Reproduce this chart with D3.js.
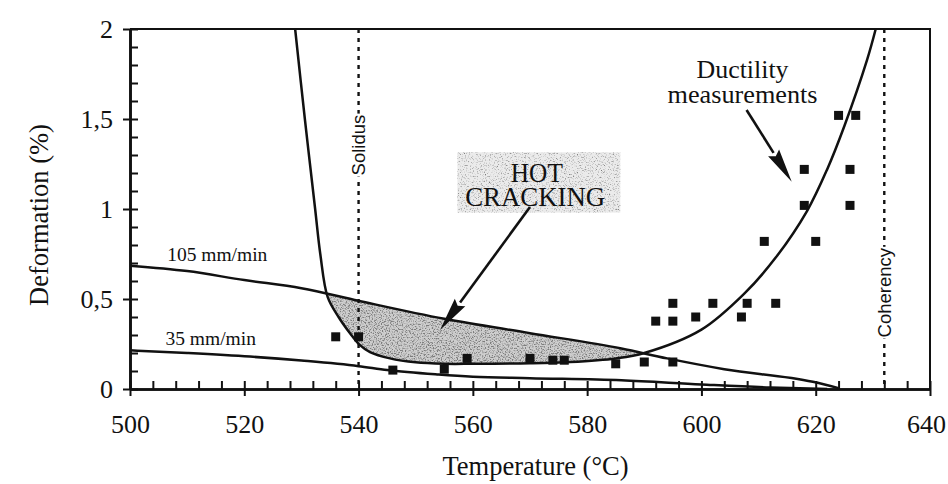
<!DOCTYPE html>
<html>
<head>
<meta charset="utf-8">
<script src="https://cdn.jsdelivr.net/npm/d3@7"></script>
<style>
  html, body { margin: 0; padding: 0; background: #fff; }
  svg { display: block; }
</style>
</head>
<body>
<svg id="chart" width="948" height="484"></svg>
<script>
// ── Hot cracking window: deformation vs temperature ─────────────────────────

// axes
const xMajorTicks = [500, 520, 540, 560, 580, 600, 620, 640];
const yMajorTicks = [0, 0.5, 1, 1.5, 2];
const yTickLabels = ["0", "0,5", "1", "1,5", "2"];

// imposed strain lines (two welding speeds)
const fastTemp = [500, 510, 520, 530, 540, 555, 570, 586, 594, 604, 619.5, 624];
const fastDef  = [0.685, 0.655, 0.605, 0.56, 0.49, 0.39, 0.31, 0.225, 0.17, 0.11, 0.04, 0.005];
const slowTemp = [500, 510, 521, 530, 540, 545, 554, 560, 570, 586, 600, 612, 622];
const slowDef  = [0.215, 0.2, 0.18, 0.158, 0.127, 0.105, 0.08, 0.068, 0.06, 0.048, 0.025, 0.008, 0];

// ductility curve (fitted to the measurements)
const ductTemp = [528.9, 530.6, 532.4, 533.3, 534.6, 536.5, 538.5, 540.2, 542, 545.5, 550, 555, 560, 570, 577, 585, 590, 600, 607.5, 613, 618.5, 622, 625, 629, 630.5];
const ductDef  = [2.0, 1.5, 1.0, 0.75, 0.51, 0.40, 0.31, 0.245, 0.205, 0.17, 0.148, 0.14, 0.14, 0.143, 0.15, 0.17, 0.2, 0.33, 0.53, 0.73, 0.99, 1.22, 1.46, 1.83, 2.0];

// ductility measurements
const measTemp = [536, 540, 546, 555, 559, 570, 574, 576, 585, 590, 595,
                  592, 595, 599, 607, 595, 602, 608, 613,
                  611, 620, 618, 626, 618, 626, 624, 627];
const measDef  = [0.29, 0.29, 0.105, 0.11, 0.17, 0.17, 0.16, 0.16, 0.14, 0.15, 0.15,
                  0.377, 0.377, 0.40, 0.40, 0.476, 0.476, 0.476, 0.476,
                  0.82, 0.82, 1.02, 1.02, 1.22, 1.22, 1.52, 1.52];

const SOLIDUS = 540, COHERENCY = 632;

const SERIF = "'Liberation Serif', 'Times New Roman', serif";
const SANS  = "'Liberation Sans', Arial, sans-serif";

const svg = d3.select("#chart");
const x = d3.scaleLinear().domain([500, 640]).range([130, 930]);
const y = d3.scaleLinear().domain([0, 2]).range([389, 29]);

const zip = (a, b) => a.map((t, i) => [t, b[i]]);
const fast = zip(fastTemp, fastDef);
const slow = zip(slowTemp, slowDef);
const duct = zip(ductTemp, ductDef);

// ── defs: stipple filters + clip for the hot-cracking area ─────────────────
const defs = svg.append("defs");
function stippleFilter(id, matrixRow) {
  const f = defs.append("filter").attr("id", id)
    .attr("x", 0).attr("y", 0).attr("width", 1).attr("height", 1);
  f.append("feTurbulence").attr("type", "fractalNoise")
    .attr("baseFrequency", 0.75).attr("numOctaves", 2).attr("seed", 7).attr("result", "n");
  f.append("feColorMatrix").attr("in", "n").attr("type", "matrix")
    .attr("values", "0 0 0 0 0.2  0 0 0 0 0.2  0 0 0 0 0.2  " + matrixRow)
    .attr("result", "d");
  f.append("feComposite").attr("in", "d").attr("in2", "SourceAlpha")
    .attr("operator", "in").attr("result", "dd");
  const fm = f.append("feMerge");
  fm.append("feMergeNode").attr("in", "SourceGraphic");
  fm.append("feMergeNode").attr("in", "dd");
}
stippleFilter("stipple", "-4 0 0 0 2.2");
stippleFilter("stippleLight", "-3 0 0 0 1.45");

const ductCurve = d3.curveCatmullRom.alpha(0.5);

// region above the ductility curve
defs.append("clipPath").attr("id", "aboveDuct")
  .append("path")
  .attr("d", d3.area().curve(ductCurve)
    .x(d => x(d[0])).y0(y(2)).y1(d => y(d[1]))(duct));

// ── hot cracking area: below 105 mm/min line and above ductility ───────────
svg.append("path")
  .attr("d", d3.area().curve(d3.curveMonotoneX)
    .x(d => x(d[0])).y0(y(0)).y1(d => y(d[1]))(fast))
  .attr("clip-path", "url(#aboveDuct)")
  .attr("fill", "#cfcfcf")
  .attr("filter", "url(#stipple)");

// ── lines ──────────────────────────────────────────────────────────────────
const line = d3.line().curve(d3.curveMonotoneX).x(d => x(d[0])).y(d => y(d[1]));
[fast, slow].forEach(function (s) {
  svg.append("path").attr("d", line(s))
    .attr("fill", "none").attr("stroke", "#111")
    .attr("stroke-width", 2.5).attr("stroke-linejoin", "round");
});
svg.append("path").attr("d", line.curve(ductCurve)(duct))
  .attr("fill", "none").attr("stroke", "#111")
  .attr("stroke-width", 2.5).attr("stroke-linejoin", "round");

// ── solidus / coherency dotted lines with labels ───────────────────────────
function dotted(temp, label, from, to) {
  const cx = x(temp);
  svg.append("line")
    .attr("x1", cx).attr("x2", cx).attr("y1", y(2)).attr("y2", y(0))
    .attr("stroke", "#111").attr("stroke-width", 2.4)
    .attr("stroke-dasharray", "4,5");
  svg.append("rect")
    .attr("x", cx - 10).attr("y", y(from)).attr("width", 20)
    .attr("height", y(to) - y(from)).attr("fill", "#fff");
  svg.append("text")
    .attr("transform", `translate(${cx},${(y(from) + y(to)) / 2}) rotate(-90)`)
    .attr("text-anchor", "middle").attr("dy", "0.35em")
    .attr("font-family", SANS).attr("font-size", 18.5).attr("fill", "#111")
    .text(label);
}
dotted(SOLIDUS, "Solidus", 1.53, 1.18);
dotted(COHERENCY, "Coherency", 0.79, 0.28);

// ── measurements ───────────────────────────────────────────────────────────
svg.append("g").selectAll("rect")
  .data(zip(measTemp, measDef))
  .join("rect")
  .attr("x", d => x(d[0]) - 4.5).attr("y", d => y(d[1]) - 4.5)
  .attr("width", 9).attr("height", 9).attr("fill", "#111");

// ── axes ───────────────────────────────────────────────────────────────────
const xMinor = d3.range(500, 641, 4);
const yMinor = d3.range(0, 2.01, 0.1);

function styleAxis(g) {
  g.select(".domain").attr("stroke", "#111").attr("stroke-width", 2.6);
  g.selectAll(".tick line").attr("stroke", "#111").attr("stroke-width", 2);
  g.attr("font-family", SERIF).attr("font-size", 26);
  g.selectAll(".tick text").attr("fill", "#111");
}

svg.append("g").attr("transform", `translate(0,${y(0)})`)
  .call(d3.axisBottom(x).tickValues(xMinor).tickSize(-8).tickSizeOuter(0).tickFormat(""))
  .call(styleAxis);
svg.append("g").attr("transform", `translate(0,${y(0)})`)
  .call(d3.axisBottom(x).tickValues(xMajorTicks).tickSize(7).tickSizeOuter(0)
    .tickPadding(18.5).tickFormat(d3.format("d")))
  .call(styleAxis)
  .call(g => g.selectAll(".tick text").filter(d => d === 640).attr("dx", -4));

svg.append("g").attr("transform", `translate(${x(500)},0)`)
  .call(d3.axisLeft(y).tickValues(yMinor).tickSize(-8).tickSizeOuter(0).tickFormat(""))
  .call(styleAxis);
svg.append("g").attr("transform", `translate(${x(500)},0)`)
  .call(d3.axisLeft(y).tickValues(yMajorTicks).tickSize(7).tickSizeOuter(0)
    .tickPadding(10).tickFormat((d, i) => yTickLabels[i]))
  .call(styleAxis);

// frame top + right
svg.append("path")
  .attr("d", `M${x(500)},${y(2)}H${x(640)}V${y(0)}`)
  .attr("fill", "none").attr("stroke", "#111").attr("stroke-width", 2);

// axis titles
svg.append("text")
  .attr("x", 535.5).attr("y", 475).attr("text-anchor", "middle")
  .attr("font-family", SERIF).attr("font-size", 26.5).attr("fill", "#111")
  .text("Temperature (°C)");
svg.append("text")
  .attr("transform", "translate(48,215) rotate(-90)").attr("text-anchor", "middle")
  .attr("font-family", SERIF).attr("font-size", 26.5).attr("fill", "#111")
  .text("Deformation (%)");

// speed labels
svg.append("text").attr("x", x(506.5)).attr("y", y(0.71))
  .attr("font-family", SERIF).attr("font-size", 19.5).attr("fill", "#111")
  .text("105 mm/min");
svg.append("text").attr("x", x(506.2)).attr("y", y(0.245))
  .attr("font-family", SERIF).attr("font-size", 19.5).attr("fill", "#111")
  .text("35 mm/min");

// ── annotations ────────────────────────────────────────────────────────────
// HOT CRACKING stippled box
svg.append("rect")
  .attr("x", x(557.3)).attr("y", y(1.315))
  .attr("width", x(585.8) - x(557.3)).attr("height", y(0.98) - y(1.315))
  .attr("fill", "#ebebeb").attr("filter", "url(#stippleLight)");

svg.append("text").attr("x", x(571.2)).attr("y", y(1.148))
  .attr("text-anchor", "middle").attr("font-family", SERIF).attr("font-size", 28)
  .attr("textLength", 52).attr("lengthAdjust", "spacingAndGlyphs").attr("fill", "#111")
  .text("HOT");
svg.append("text").attr("x", x(570.9)).attr("y", y(1.015))
  .attr("text-anchor", "middle").attr("font-family", SERIF).attr("font-size", 28)
  .attr("textLength", 140).attr("lengthAdjust", "spacingAndGlyphs").attr("fill", "#111")
  .text("CRACKING");

svg.append("text").attr("x", x(607.2)).attr("y", y(1.73))
  .attr("text-anchor", "middle").attr("font-family", SERIF).attr("font-size", 25)
  .attr("textLength", 92).attr("lengthAdjust", "spacingAndGlyphs").attr("fill", "#111")
  .text("Ductility");
svg.append("text").attr("x", x(607.2)).attr("y", y(1.587))
  .attr("text-anchor", "middle").attr("font-family", SERIF).attr("font-size", 25)
  .attr("textLength", 150).attr("lengthAdjust", "spacingAndGlyphs").attr("fill", "#111")
  .text("measurements");

function arrow(t0, d0, t1, d1) {
  const x0 = x(t0), y0 = y(d0), x1 = x(t1), y1 = y(d1);
  const ang = Math.atan2(y1 - y0, x1 - x0);
  const L = 34, W = 6.5;
  const bx = x1 - L * Math.cos(ang), by = y1 - L * Math.sin(ang);
  svg.append("line").attr("x1", x0).attr("y1", y0).attr("x2", bx).attr("y2", by)
    .attr("stroke", "#111").attr("stroke-width", 2.6);
  const nx = -Math.sin(ang) * W, ny = Math.cos(ang) * W;
  svg.append("path")
    .attr("d", `M${x1},${y1}L${bx + nx},${by + ny}L${bx + (x1 - bx) * 0.12},${by + (y1 - by) * 0.12}L${bx - nx},${by - ny}Z`)
    .attr("fill", "#111");
}
arrow(570, 1.011, 554.25, 0.328);
arrow(607.9, 1.55, 615.8, 1.152);
</script>
</body>
</html>
